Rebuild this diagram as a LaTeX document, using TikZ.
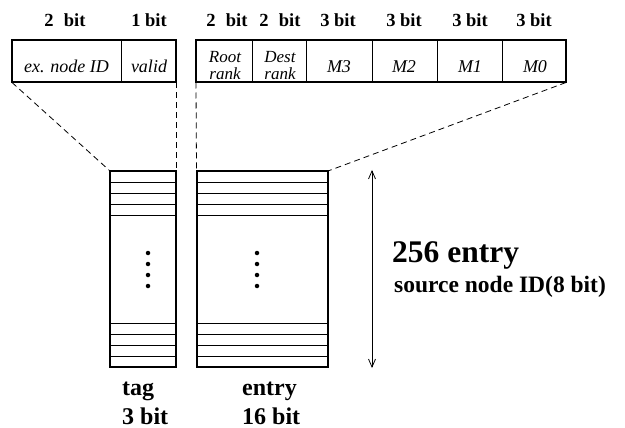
\documentclass[tikz,border=0pt]{standalone}
\usepackage{fontspec}
\setmainfont{Liberation Serif}
\usetikzlibrary{arrows.meta}
\begin{document}
\begin{tikzpicture}[x=1pt,y=-1pt,
  field/.style={draw, line width=0.8pt, minimum height=42pt, inner sep=0pt, outer sep=0pt},
  frame/.style={draw, line width=2pt, inner sep=0pt, outer sep=0pt},
  tablebox/.style={draw, line width=2pt, inner sep=0pt, outer sep=0pt, minimum height=196pt},
  itl/.style={font=\fontsize{18}{18}\selectfont\itshape, inner sep=0pt, anchor=base},
  itl2/.style={font=\fontsize{17}{16.5}\selectfont\itshape, inner sep=0pt, align=center},
  hdr/.style={font=\fontsize{18.5}{20}\selectfont\bfseries, inner sep=0pt, anchor=base},
  blbl/.style={font=\fontsize{24}{26}\selectfont\bfseries, inner sep=0pt, anchor=base west},
  conn/.style={line width=0.8pt, dash pattern=on 6pt off 4pt},
  rowline/.style={line width=0.8pt},
  dotmark/.style={circle, fill, inner sep=0pt, minimum size=4.5pt},
]
\useasboundingbox (0,0) rectangle (625,428);

% top-left word (tag)
\node[field, minimum width=109pt] (exid)  at (66.5,61.5) {};
\node[field, minimum width=55pt]  (valid) at (148.5,61.5) {};
\node[frame, minimum width=164pt, minimum height=42pt] (tagword) at (94,61.5) {};
\node[itl] (exidt)  at (66.5,73) {ex. node ID};
\node[itl] (validt) at (149,73) {valid};

% top-right word (entry)
\node[field, minimum width=56pt] (root) at (224,61.5) {};
\node[field, minimum width=54pt] (dest) at (279,61.5) {};
\node[field, minimum width=66pt] (m3)   at (339,61.5) {};
\node[field, minimum width=65pt] (m2)   at (404.5,61.5) {};
\node[field, minimum width=65pt] (m1)   at (469.5,61.5) {};
\node[field, minimum width=64pt] (m0)   at (534,61.5) {};
\node[frame, minimum width=370pt, minimum height=42pt] (entryword) at (381,61.5) {};
\node[itl2] (roott) at (225,65.5) {Root\\rank};
\node[itl2] (destt) at (280,65.5) {Dest\\rank};
\node[itl] (m3t) at (339,73) {M3};
\node[itl] (m2t) at (404,73) {M2};
\node[itl] (m1t) at (470,73) {M1};
\node[itl] (m0t) at (535,73) {M0};

% headers
\node[hdr] (h1) at (65,27)  {2\hspace{0.3em} bit};
\node[hdr] (h2) at (149,27) {1 bit};
\node[hdr] (h3) at (227,27) {2\hspace{0.3em} bit};
\node[hdr] (h4) at (280,27) {2\hspace{0.3em} bit};
\node[hdr] (h5) at (338,27) {3 bit};
\node[hdr] (h6) at (404,27) {3 bit};
\node[hdr] (h7) at (470,27) {3 bit};
\node[hdr] (h8) at (534,27) {3 bit};

% tables
\node[tablebox, minimum width=66pt]    (tagtab)   at (143,269) {};
\node[tablebox, minimum width=131.5pt] (entrytab) at (262.25,269) {};
\foreach \d in {11,22,33,44} {
  \draw[rowline] ([yshift=-\d pt]tagtab.north west) -- ([yshift=-\d pt]tagtab.north east);
  \draw[rowline] ([yshift=\d pt]tagtab.south west) -- ([yshift=\d pt]tagtab.south east);
  \draw[rowline] ([yshift=-\d pt]entrytab.north west) -- ([yshift=-\d pt]entrytab.north east);
  \draw[rowline] ([yshift=\d pt]entrytab.south west) -- ([yshift=\d pt]entrytab.south east);
}
\foreach \yy [count=\i] in {253,264,275,286} {
  \node[dotmark] (td\i) at (148,\yy) {};
  \node[dotmark] (ed\i) at (257,\yy) {};
}

% dashed connectors
\draw[conn] (tagword.south west) -- (tagtab.north west);
\draw[conn] (tagword.south east) -- (tagtab.north east);
\draw[conn] (entryword.south west) -- (entrytab.north west);
\draw[conn] (entryword.south east) -- (entrytab.north east);

% size arrow
\coordinate (arrtop) at (372,170);
\coordinate (arrbot) at (372,368);
\draw[line width=0.8pt, {Straight Barb[length=8pt,width=7pt]}-{Straight Barb[length=8pt,width=7pt]}] (arrtop) -- (arrbot);

% right texts
\node[font=\fontsize{31.5}{33}\selectfont\bfseries, inner sep=0pt, anchor=base west] (big) at (392,262) {256 entry};
\node[font=\fontsize{23.5}{25}\selectfont\bfseries, inner sep=0pt, anchor=base west] (src) at (394,292) {source node ID(8 bit)};

% bottom labels
\node[blbl] (tagl)  at (122,395) {tag};
\node[blbl] (tagb)  at (122,424) {3 bit};
\node[blbl] (entl)  at (242,395) {entry};
\node[blbl] (entb)  at (242,424) {16 bit};
\end{tikzpicture}
\end{document}
